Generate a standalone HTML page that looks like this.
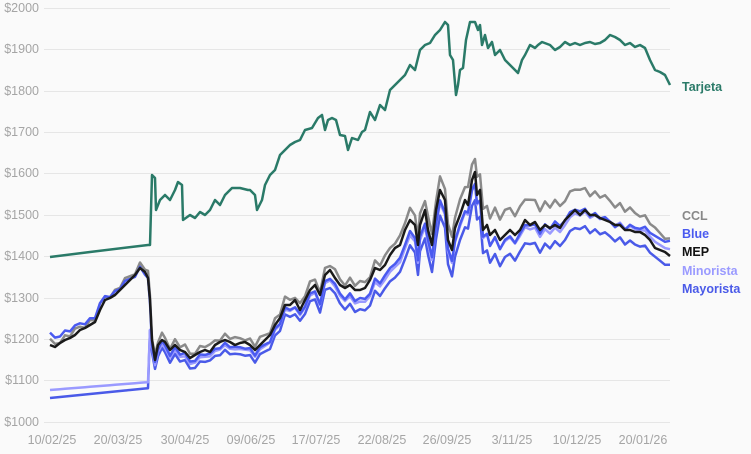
<!DOCTYPE html>
<html><head><meta charset="utf-8"><style>
body{margin:0;background:#fafafa;}
svg{display:block;font-family:"Liberation Sans",sans-serif;}
</style></head><body>
<svg id="s" width="751" height="454" viewBox="0 0 751 454">
<rect width="751" height="454" fill="#fafafa"/>
<g stroke="#e6e6e6" stroke-width="1">
<line x1="44" x2="670" y1="8.5" y2="8.5"/><line x1="44" x2="670" y1="49.5" y2="49.5"/><line x1="44" x2="670" y1="91.5" y2="91.5"/><line x1="44" x2="670" y1="132.5" y2="132.5"/><line x1="44" x2="670" y1="173.5" y2="173.5"/><line x1="44" x2="670" y1="215.5" y2="215.5"/><line x1="44" x2="670" y1="256.5" y2="256.5"/><line x1="44" x2="670" y1="298.5" y2="298.5"/><line x1="44" x2="670" y1="339.5" y2="339.5"/><line x1="44" x2="670" y1="380.5" y2="380.5"/><line x1="44" x2="670" y1="422.5" y2="422.5"/>
</g>
<g fill="#a5a5a5" font-size="12.5" text-anchor="end">
<text x="39" y="12">$2000</text><text x="39" y="53">$1900</text><text x="39" y="95">$1800</text><text x="39" y="136">$1700</text><text x="39" y="177">$1600</text><text x="39" y="219">$1500</text><text x="39" y="260">$1400</text><text x="39" y="302">$1300</text><text x="39" y="343">$1200</text><text x="39" y="384">$1100</text><text x="39" y="426">$1000</text>
</g>
<g fill="#a5a5a5" font-size="12.5" text-anchor="middle">
<text x="52" y="444">10/02/25</text><text x="118" y="444">20/03/25</text><text x="185" y="444">30/04/25</text><text x="251" y="444">09/06/25</text><text x="316" y="444">17/07/25</text><text x="382" y="444">22/08/25</text><text x="447" y="444">26/09/25</text><text x="512" y="444">3/11/25</text><text x="577" y="444">10/12/25</text><text x="643" y="444">20/01/26</text>
</g>
<g id="lines" fill="none" stroke-width="2.5" stroke-linejoin="round"></g>
<g font-size="12.5" font-weight="bold">
<text x="682" y="91" fill="#2a7a68">Tarjeta</text>
<text x="682" y="220" fill="#888">CCL</text>
<text x="682" y="238" fill="#4a5af0">Blue</text>
<text x="682" y="256" fill="#111">MEP</text>
<text x="682" y="275" fill="#9a9aff">Minorista</text>
<text x="682" y="293" fill="#4a5ae8">Mayorista</text>
</g>
</svg>
<script>
var T=[[50,257],[90,252],[148,245],[150,245],[152,175],[155,178],[156,210],[160,200],[165,195],[170,200],[175,190],[178,182],[182,185],[183,220],[190,215],[195,218],[200,212],[205,215],[210,210],[215,200],[220,205],[225,195],[230,190],[232,188],[240,188],[248,190],[250,190],[255,195],[257,210],[262,200],[265,185],[270,175],[275,170],[280,155],[285,150],[290,145],[295,142],[300,140],[305,130],[312,128],[315,123],[318,118],[322,115],[325,130],[328,120],[332,118],[336,120],[340,135],[345,136],[348,150],[352,138],[358,140],[362,132],[365,130],[370,112],[375,120],[380,105],[385,110],[390,90],[395,85],[400,80],[405,75],[410,65],[415,70],[420,50],[425,45],[430,43],[435,35],[440,30],[445,22],[448,25],[450,55],[453,60],[456,95],[458,85],[460,70],[463,68],[466,40],[470,22],[475,22],[478,30],[480,25],[482,45],[485,35],[488,48],[492,42],[495,55],[500,50],[505,60],[510,65],[515,70],[518,73],[522,60],[525,55],[530,45],[535,48],[538,45],[542,42],[550,45],[555,50],[560,47],[565,42],[570,45],[575,43],[580,45],[585,43],[590,42],[595,44],[600,43],[605,40],[610,35],[615,37],[620,40],[625,45],[630,43],[635,47],[640,45],[645,48],[650,60],[655,70],[660,72],[665,75],[670,85]];
var M=[[50,345],[55,347],[60,343],[65,340],[70,338],[75,335],[80,330],[85,328],[90,325],[95,322],[100,310],[105,300],[110,298],[115,295],[120,290],[125,285],[130,280],[135,275],[140,268],[145,272],[148,278],[150,300],[152,340],[155,360],[158,345],[162,340],[165,342],[170,350],[175,345],[180,350],[185,352],[190,358],[195,355],[200,352],[205,350],[210,352],[215,345],[220,342],[225,340],[230,342],[235,345],[240,343],[245,342],[250,345],[255,350],[260,345],[265,340],[270,335],[275,325],[280,318],[285,305],[290,305],[295,300],[300,310],[305,300],[310,290],[315,285],[320,295],[325,275],[330,270],[335,278],[340,285],[345,288],[350,285],[355,290],[360,290],[365,288],[370,280],[375,268],[380,270],[385,265],[390,255],[395,248],[400,245],[405,230],[410,220],[415,225],[418,245],[420,225],[425,210],[428,230],[432,245],[436,210],[440,190],[445,200],[448,240],[452,250],[455,228],[460,215],[465,200],[468,205],[472,180],[475,172],[477,195],[480,190],[483,230],[487,225],[490,235],[495,230],[500,240],[505,235],[510,230],[515,235],[520,230],[525,220],[530,225],[535,222],[540,230],[545,225],[550,228],[555,225],[560,228],[565,220],[570,215],[575,210],[580,215],[585,210],[590,215],[595,215],[600,218],[605,220],[610,222],[615,225],[620,225],[625,230],[630,230],[635,232],[640,232],[645,235],[650,240],[655,248],[660,250],[665,252],[670,256]];
function lerp(pts,x){for(var i=1;i<pts.length;i++){if(x<=pts[i][0]){var a=pts[i-1],b=pts[i];return a[1]+(b[1]-a[1])*(x-a[0])/(b[0]-a[0]);}}return pts[pts.length-1][1];}
function derive(off,pre,j){return M.map(function(p,i){var x=p[0];if(x<=150&&pre)return [x,pre(x)];var jj=j*((i*7)%5-2);return [x,p[1]+lerp(off,x)+jj];});}
var CCL=derive([[50,-3],[150,-4],[380,-6],[470,-15],[500,-22],[600,-22],[670,-16]],null,1.6);
var BLUE=derive([[50,-10],[140,0],[150,3],[300,5],[400,14],[500,8],[560,-2],[620,0],[670,-14]],null,1.2);
var MIN=derive([[150,6],[300,6],[400,18],[500,8],[560,4],[670,-6]],function(x){return x<149?390-(x-50)*0.08:330;},0.8);
var MAY=derive([[150,10],[300,12],[400,28],[500,25],[560,18],[670,10]],function(x){return x<149?398-(x-50)*0.1:330;},1.2);
function pl(pts,c){var s=pts.map(function(p){return p[0]+","+p[1].toFixed(1)}).join(" ");return '<polyline points="'+s+'" stroke="'+c+'"/>';}
document.getElementById("lines").innerHTML=pl(T,"#2a7a68")+pl(CCL,"#8a8a8a")+pl(MAY,"#4a5ae8")+pl(MIN,"#9a9aff")+pl(BLUE,"#4a5af0")+pl(M,"#1a1a1a");
</script>
</body></html>
